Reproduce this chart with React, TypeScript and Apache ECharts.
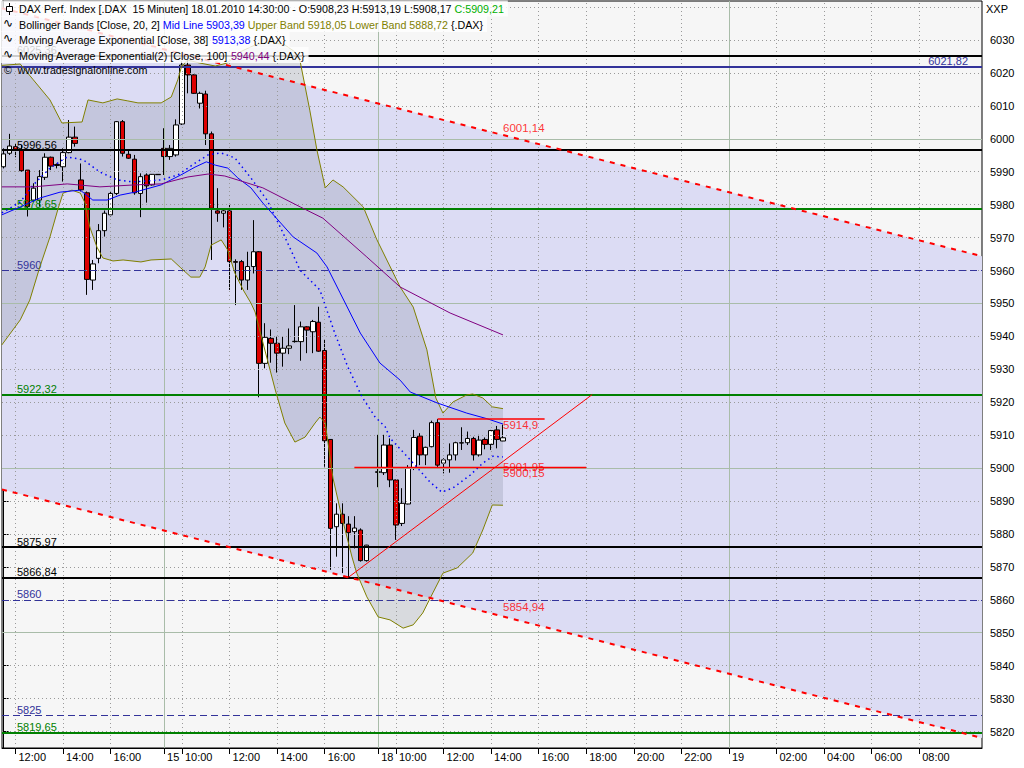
import React, { useEffect, useRef } from "react";
import * as echarts from "echarts";

const FONT = '"Liberation Sans", Arial, sans-serif';

// ---------- price bars (15 min, index 0 = 14.01. 11:30) ----------
const opens = [
  5991.5, 5995.6, 5997.6, 5996.6, 5990.5, 5981.4, 5981.4, 5988.3, 5994.4, 5992.2,
  5991.5, 5995.8, 6000.5, 5987.5, 5983.6, 5957.1, 5963.7, 5972.1, 5976.9, 5983.4,
  6005.2, 5995.3, 5993.8, 5983.4, 5989.0, 5986.0, 5989.2, 5997.1, 5994.6, 5995.1,
  6004.5, 6022.4, 6019.4, 6010.8, 6013.6, 6001.5, 5978.1, 5977.4, 5978.1, 5962.7,
  5962.7, 5957.1, 5961.2, 5965.7, 5931.8, 5939.4, 5937.9, 5934.9, 5936.4, 5938.4,
  5938.4, 5942.9, 5941.4, 5944.3, 5935.7, 5908.7, 5882.2, 5886.0, 5883.0, 5880.7,
  5881.2, 5871.9, null, 5898.7, 5898.6, 5907.0, 5896.4, 5883.2, 5889.1, 5899.9,
  5909.7, 5904.0, 5906.5, 5913.8, 5901.5, 5902.5, 5904.0, 5907.6, 5907.7, 5909.0,
  5904.0, 5908.7, 5907.2, 5911.6, 5908.23,
];
const closes = [
  5995.4, 5997.8, 5996.8, 5990.3, 5979.4, 5985.0, 5988.5, 5994.4, 5991.7, 5991.9,
  5995.8, 6000.5, 5998.6, 5984.5, 5957.3, 5962.0, 5972.1, 5977.4, 5983.4, 6005.2,
  5995.6, 5994.1, 5983.6, 5988.5, 5985.7, 5989.2, 5989.1, 5994.6, 5997.1, 6004.2,
  6022.4, 6019.4, 6013.8, 6013.8, 6001.5, 5978.9, 5977.4, 5978.1, 5962.7, 5962.5,
  5957.1, 5961.2, 5965.7, 5931.8, 5939.7, 5937.9, 5934.9, 5936.4, 5937.1, 5938.5,
  5942.9, 5941.9, 5944.5, 5935.5, 5908.3, 5881.7, 5886.0, 5883.2, 5880.4, 5881.8,
  5871.9, 5876.6, null, 5898.9, 5907.0, 5896.4, 5882.7, 5889.3, 5899.9, 5909.3,
  5904.0, 5906.3, 5913.8, 5900.9, 5902.5, 5904.0, 5907.7, 5907.7, 5909.0, 5904.0,
  5908.5, 5907.2, 5911.4, 5908.7, 5909.21,
];
const lows = [
  5991.0, 5995.1, 5994.4, 5990.0, 5976.4, 5980.9, 5979.4, 5987.5, 5990.5, 5991.0,
  5987.0, 5995.6, 5997.6, 5984.0, 5952.6, 5954.1, 5962.2, 5970.3, 5976.4, 5982.9,
  5994.6, 5993.9, 5983.0, 5976.2, 5980.6, 5985.8, 5989.0, 5989.0, 5993.6, 5994.6,
  6004.2, 6013.8, 6013.6, 6009.2, 5998.1, 5963.2, 5974.8, 5973.1, 5954.1, 5949.5,
  5954.1, 5954.1, 5959.1, 5921.5, 5930.3, 5932.0, 5929.0, 5930.8, 5934.6, 5938.1,
  5932.6, 5934.9, 5934.9, 5935.3, 5900.4, 5869.1, 5873.1, 5868.1, 5866.84, 5875.6,
  5871.6, 5871.6, null, 5894.2, 5897.9, 5894.2, 5878.2, 5882.4, 5889.0, 5899.4,
  5900.9, 5900.9, 5906.3, 5900.1, 5898.4, 5898.6, 5902.3, 5905.5, 5907.0, 5902.3,
  5903.5, 5905.7, 5905.5, 5906.0, 5908.17,
];
const highs = [
  5997.1, 6001.5, 5998.6, 5998.1, 5990.5, 5986.5, 5990.5, 5995.6, 5994.6, 5992.5,
  5997.1, 6005.7, 6003.7, 5992.5, 5984.0, 5963.2, 5974.1, 5978.2, 5984.0, 6005.4,
  6005.7, 5996.8, 5995.1, 5989.5, 5989.5, 5989.3, 5989.3, 6003.2, 5998.1, 6005.9,
  6023.5, 6025.36, 6019.6, 6014.3, 6014.6, 6002.2, 5985.0, 5978.6, 5979.9, 5963.4,
  5963.2, 5965.7, 5975.3, 5965.9, 5944.0, 5942.1, 5939.9, 5939.9, 5942.4, 5949.5,
  5944.5, 5943.1, 5945.0, 5949.0, 5938.9, 5908.8, 5889.3, 5889.3, 5885.4, 5885.4,
  5881.7, 5876.7, null, 5910.1, 5910.1, 5909.0, 5896.5, 5893.9, 5900.9, 5911.6,
  5910.6, 5906.5, 5914.4, 5914.9, 5903.0, 5907.5, 5908.0, 5912.4, 5911.1, 5909.5,
  5910.1, 5909.3, 5911.6, 5912.8, 5913.19,
];

// ---------- indicators, read as [bar index, value] ----------
const bbUpper = [
  [-0.3, 6022.3], [2.8, 6022.7], [5.0, 6017.9], [7.8, 6011.8], [9.8, 6004.8], [13.2, 6005.1],
  [14.2, 6011.8], [16.7, 6010.9], [19.1, 6012.1], [20.9, 6011.5], [22.6, 6010.9], [26.5, 6010.9],
  [28.2, 6012.7], [29.3, 6017.9], [29.9, 6021.8], [30.9, 6023.9], [33.0, 6023.0], [35.6, 6022.1],
  [37.6, 6023.0], [39.8, 6026.4], [42.3, 6028.5], [44.8, 6029.4], [47.3, 6028.5], [49.0, 6026.4],
  [49.9, 6023.3], [51.5, 6008.7], [52.7, 5996.6], [54.1, 5985.1], [55.4, 5987.5], [57.1, 5985.4],
  [60.5, 5979.3], [62.8, 5969.3], [66.7, 5955.0], [68.9, 5948.9], [71.2, 5935.9], [72.7, 5921.3],
  [73.9, 5916.7], [75.6, 5920.1], [77.9, 5922.2], [78.9, 5922.5], [80.6, 5921.3], [82.2, 5918.6],
  [84.0, 5918.05],
];
const bbLower = [
  [-0.3, 5937.4], [2.8, 5945.0], [4.4, 5951.0], [6.1, 5961.1], [7.8, 5970.2], [9.2, 5979.0],
  [10.0, 5983.5], [11.5, 5984.4], [12.9, 5983.5], [13.7, 5980.5], [14.5, 5973.2], [15.7, 5967.1],
  [16.7, 5963.8], [18.4, 5962.9], [20.1, 5963.2], [23.1, 5962.6], [24.8, 5963.2], [28.2, 5963.5],
  [29.8, 5960.8], [31.5, 5958.0], [33.0, 5958.0], [33.9, 5961.1], [34.9, 5967.7], [36.6, 5969.3],
  [37.7, 5966.2], [38.9, 5959.2], [40.3, 5954.1], [41.6, 5950.1], [42.3, 5947.4], [43.5, 5938.9],
  [45.7, 5923.7], [47.3, 5913.7], [49.0, 5907.9], [50.7, 5909.4], [52.4, 5913.7], [53.2, 5915.5],
  [54.1, 5913.7], [55.4, 5897.0], [56.9, 5885.1], [58.6, 5873.0], [59.4, 5868.1], [61.1, 5860.9],
  [63.0, 5854.8], [65.0, 5853.9], [67.2, 5851.4], [68.9, 5852.4], [70.5, 5856.0], [72.2, 5862.1],
  [73.9, 5868.1], [76.3, 5869.7], [78.9, 5874.2], [80.6, 5881.2], [82.2, 5888.8], [84.0, 5888.72],
];
const bbMid = [
  [-0.3, 5977.5], [2.8, 5980.8], [5.0, 5986.0], [7.8, 5991.1], [10.7, 5994.5], [13.4, 5993.6],
  [16.2, 5989.9], [19.1, 5987.5], [21.8, 5986.9], [26.5, 5987.5], [29.3, 5989.0], [32.2, 5992.6],
  [34.4, 5995.1], [36.6, 5995.7], [38.9, 5994.2], [41.6, 5988.1], [44.3, 5981.4], [47.0, 5971.4],
  [49.9, 5960.0], [53.2, 5954.1], [55.7, 5941.0], [57.9, 5930.7], [60.3, 5921.6], [62.5, 5915.5],
  [64.2, 5912.5], [65.0, 5909.1], [68.4, 5902.5], [71.7, 5895.8], [73.7, 5892.7], [75.6, 5894.0],
  [78.5, 5897.9], [80.6, 5901.5], [82.3, 5903.6], [84.0, 5903.39],
];
const ema38 = [
  [-0.3, 5976.9], [2.8, 5979.3], [6.1, 5982.0], [9.5, 5983.8], [12.9, 5984.4], [15.0, 5981.4],
  [17.4, 5981.4], [19.6, 5982.9], [22.1, 5983.8], [26.5, 5986.0], [29.8, 5989.0], [32.2, 5991.4],
  [34.1, 5993.0], [35.6, 5992.0], [37.7, 5991.1], [39.4, 5988.1], [41.6, 5985.1], [43.6, 5980.5],
  [48.7, 5970.2], [52.7, 5965.3], [54.4, 5961.1], [56.6, 5953.2], [60.0, 5941.0], [63.3, 5931.9],
  [66.7, 5926.7], [68.4, 5923.1], [72.9, 5919.8], [77.9, 5916.7], [81.3, 5915.0], [84.0, 5913.38],
];
const ema100 = [
  [-0.3, 5985.4], [5.0, 5985.4], [10.7, 5986.3], [16.2, 5985.4], [22.1, 5986.0], [26.5, 5986.3],
  [31.0, 5988.4], [34.4, 5989.3], [37.2, 5988.7], [39.9, 5987.2], [43.6, 5985.1], [49.9, 5979.3],
  [53.7, 5975.9], [61.1, 5964.1], [66.7, 5955.0], [75.1, 5947.1], [84.0, 5940.44],
];

// legend values
const BB_MID_LAST = "5903,39";
const BB_UP_LAST = "5918,05";
const BB_LO_LAST = "5888,72";
const EMA38_LAST = "5913,38";
const EMA100_LAST = "5940,44";

// ---------- drawings ----------
const channelUpper = [[31, 6025.36], [84, 6001.14]];
const channelLower = [[58, 5866.84], [84, 5854.94]];
const risingTrend = [[58, 5866.84], [99, 5922.32]];
const resistLine = [[73, 5914.9], [91, 5914.9]];
const supportLine = [[59, 5900.15], [98, 5900.15]];
const redLabelIdx = 84;
const redLabelValues = [6001.14, 5854.94, 5914.9, 5901.95, 5900.15];
const redLabelTexts = ["6001,14", "5854,94", "5914,9", "5901,95", "5900,15"];
const redLabelDy = [-13, -15, 0, -1, -1];

const levelValues = [6025.36, 6021.82, 5996.56, 5978.65, 5960, 5922.32, 5875.97, 5866.84, 5860, 5825, 5819.65];
const levelLabels = ["6025,36", "6021,82", "5996,56", "5978,65", "5960", "5922,32", "5875,97", "5866,84", "5860", "5825", "5819,65"];
const levelKinds = ["black", "navyRight", "black", "green", "navyDash", "green", "black", "black", "navyDash", "navyDash", "green"];

// ---------- axes ----------
const xTickIdx = [2, 10, 18, 27, 30, 38, 46, 54, 63, 66, 74, 82, 90, 98, 106, 114, 122, 130, 138, 146, 154];
const xTickText = ["12:00", "14:00", "16:00", "15", "10:00", "12:00", "14:00", "16:00", "18", "10:00", "12:00", "14:00", "16:00", "18:00", "20:00", "22:00", "19", "02:00", "04:00", "06:00", "08:00"];
const daySepIdx = [27, 63, 122];
const yTicks = [5820, 5830, 5840, 5850, 5860, 5870, 5880, 5890, 5900, 5910, 5920, 5930, 5940, 5950, 5960, 5970, 5980, 5990, 6000, 6010, 6020, 6030];
const yGridDotted = [5820, 5830, 5840, 5860, 5870, 5880, 5890, 5910, 5920, 5930, 5940, 5960, 5970, 5980, 5990, 6010, 6020, 6030, 6040];
const yGridSolid = [5850, 5900, 5950, 6000];

const XMIN = -0.27;
const XMAX = 164.57;
const YMIN = 5815.0;
const YMAX = 6041.84;

const NAVY = "#33339a";
const GREEN = "#008000";
const RED = "#ff0000";
const DOWN = "#dd0000";
const HEADER_SIZE = 10.7;

const lineAt = (p: number[][], x: number) => p[0][1] + ((p[1][1] - p[0][1]) * (x - p[0][0])) / (p[1][0] - p[0][0]);
const fmt = (v: number) => v.toFixed(2).replace(".", ",");

function buildOption() {
  const candleData: number[][] = [];
  for (let i = 0; i < opens.length; i++) {
    if (opens[i] == null) continue;
    candleData.push([i, opens[i] as number, closes[i] as number, lows[i] as number, highs[i] as number]);
  }
  const last = opens.length - 1;

  const levelStyle = (kind: string) => {
    if (kind === "black") return { color: "#000", width: 2, type: "solid" };
    if (kind === "green") return { color: GREEN, width: 2, type: "solid" };
    if (kind === "navyRight") return { color: NAVY, width: 2, type: "solid" };
    return { color: NAVY, width: 1, type: [7, 4] };
  };
  const levelLabelColor = (kind: string) => (kind === "black" ? "#000" : kind === "green" ? GREEN : NAVY);

  const channelPoly = [
    [XMIN, lineAt(channelUpper, XMIN)],
    [XMAX, lineAt(channelUpper, XMAX)],
    [XMAX, lineAt(channelLower, XMAX)],
    [XMIN, lineAt(channelLower, XMIN)],
  ];
  const bandPoly = bbUpper.concat(bbLower.slice().reverse());

  const txt = { fontFamily: FONT, fontSize: 11 };

  const headerBg = "rgba(255,255,255,0.8)";
  const headerText = (y: number, text: string, rich: any) => ({
    type: "text",
    x: 1,
    y,
    z: 100,
    silent: true,
    style: {
      text,
      rich,
      fontFamily: FONT,
      fontSize: HEADER_SIZE,
      fill: "#000",
      backgroundColor: headerBg,
      padding: [2, 4, 1, 18],
      lineHeight: 13,
    },
  });
  const r = (fill: string) => ({ fill, fontFamily: FONT, fontSize: HEADER_SIZE, lineHeight: 13 });
  const rich = { b: r("#000"), g: r("#00b000"), u: r("#0000ff"), o: r("#808000"), p: r("#800080") };

  const l1 = `{b|DAX Perf. Index [.DAX  15 Minuten] 18.01.2010 14:30:00 - O:${fmt(opens[last] as number)} H:${fmt(
    highs[last] as number
  )} L:${fmt(lows[last] as number)} }{g|C:${fmt(closes[last] as number)}}`;
  const l2 = `{b|Bollinger Bands [Close, 20, 2] }{u|Mid Line ${BB_MID_LAST}}{o| Upper Band ${BB_UP_LAST} Lower Band ${BB_LO_LAST}}{b| {.DAX}}`;
  const l3 = `{b|Moving Average Exponential [Close, 38] }{u|${EMA38_LAST}}{b| {.DAX}}`;
  const l4 = `{b|Moving Average Exponential(2) [Close, 100] }{p|${EMA100_LAST}}{b| {.DAX}}`;

  const wave = (y: number) => ({
    type: "text",
    x: 3,
    y,
    z: 101,
    silent: true,
    style: { text: "∿", fontFamily: '"DejaVu Sans", sans-serif', fontSize: 12, fill: "#000" },
  });

  return {
    animation: false,
    grid: {
      left: 2,
      right: 42,
      top: 1,
      bottom: 20,
      show: true,
      backgroundColor: "#f6f6f6",
      borderColor: "#000",
      borderWidth: 1,
    },
    xAxis: {
      type: "value",
      min: XMIN,
      max: XMAX,
      axisLine: { show: true, onZero: false, lineStyle: { color: "#000", width: 1 } },
      axisTick: { show: true, customValues: xTickIdx, length: 6, lineStyle: { color: "#000" } },
      axisLabel: {
        customValues: xTickIdx,
        formatter: (v: number) => {
          const k = xTickIdx.findIndex((t) => Math.abs(t - v) < 0.01);
          return k >= 0 ? xTickText[k] : "";
        },
        align: "left",
        padding: [0, 0, 0, 3],
        margin: 3,
        color: "#000",
        ...txt,
      },
      splitLine: { show: false },
    },
    yAxis: {
      type: "value",
      position: "right",
      min: YMIN,
      max: YMAX,
      axisLine: { show: true, lineStyle: { color: "#000", width: 1 } },
      axisTick: { show: true, customValues: yTicks, length: 5, lineStyle: { color: "#000" } },
      axisLabel: { customValues: yTicks, margin: 8, color: "#000", formatter: (v: number) => String(v), ...txt },
      splitLine: { show: false },
    },
    graphic: [
      headerText(0.5, l1, rich),
      headerText(16, l2, rich),
      headerText(31.5, l3, rich),
      headerText(47, l4, rich),
      {
        type: "group",
        z: 101,
        silent: true,
        children: [
          { type: "line", shape: { x1: 9.5, y1: 3, x2: 9.5, y2: 15 }, style: { stroke: "#000", lineWidth: 1 }, z: 101 },
          { type: "rect", shape: { x: 6.5, y: 6.5, width: 6, height: 5 }, style: { fill: "#fff", stroke: "#000", lineWidth: 1 }, z: 102 },
        ],
      },
      wave(16.5),
      wave(32),
      wave(47.5),
      {
        type: "text",
        x: 4,
        y: 64,
        z: 100,
        silent: true,
        style: { text: "©  www.tradesignalonline.com", fontFamily: FONT, fontSize: HEADER_SIZE, fill: "#000" },
      },
      {
        type: "text",
        x: 986,
        y: 3,
        z: 100,
        silent: true,
        style: { text: "XXP", fontFamily: FONT, fontSize: 11, fill: "#000" },
      },
    ],
    series: [
      // trend channel fill
      {
        type: "custom",
        z: 1,
        silent: true,
        clip: true,
        data: [[0, 5900]],
        renderItem: (_p: any, api: any) => ({
          type: "polygon",
          shape: { points: channelPoly.map((p) => api.coord(p)) },
          style: { fill: "#dcdcf4" },
        }),
      },
      // bollinger band fill
      {
        type: "custom",
        z: 2,
        silent: true,
        clip: true,
        data: [[0, 5900]],
        renderItem: (_p: any, api: any) => ({
          type: "polygon",
          shape: { points: bandPoly.map((p) => api.coord(p)) },
          style: { fill: "rgba(100,108,128,0.2)" },
        }),
      },
      // grid lines
      {
        type: "line",
        z: 3,
        silent: true,
        data: [],
        markLine: {
          silent: true,
          symbol: ["none", "none"],
          label: { show: false },
          lineStyle: { color: "#9a9a9a", width: 1, type: [1, 3] },
          data: [
            ...yGridDotted.map((v) => ({ yAxis: v })),
            ...xTickIdx.filter((i) => daySepIdx.indexOf(i) < 0).map((i) => ({ xAxis: i })),
          ],
        },
      },
      {
        type: "line",
        z: 3,
        silent: true,
        data: [],
        markLine: {
          silent: true,
          symbol: ["none", "none"],
          label: { show: false },
          lineStyle: { color: "#a9bca9", width: 1, type: "solid" },
          data: [...yGridSolid.map((v) => ({ yAxis: v })), ...daySepIdx.map((i) => ({ xAxis: i }))],
        },
      },
      // price
      {
        type: "candlestick",
        z: 4,
        silent: true,
        barWidth: 5,
        encode: { x: 0, y: [1, 2, 3, 4] },
        data: candleData,
        itemStyle: {
          color: "#ffffff",
          color0: DOWN,
          borderColor: "#000",
          borderColor0: "#000",
          borderWidth: 1,
        },
      },
      // indicators
      { type: "line", z: 5, silent: true, showSymbol: false, data: bbUpper, lineStyle: { color: "#808000", width: 1 } },
      { type: "line", z: 5, silent: true, showSymbol: false, data: bbLower, lineStyle: { color: "#808000", width: 1 } },
      {
        type: "line",
        z: 5,
        silent: true,
        showSymbol: false,
        data: bbMid,
        lineStyle: { color: "#0000ff", width: 1.5, type: [1.5, 3.5] },
      },
      { type: "line", z: 5, silent: true, showSymbol: false, data: ema38, lineStyle: { color: "#0000ff", width: 1 } },
      { type: "line", z: 5, silent: true, showSymbol: false, data: ema100, lineStyle: { color: "#800080", width: 1 } },
      // horizontal levels
      {
        type: "line",
        z: 6,
        silent: true,
        data: [],
        markLine: {
          silent: true,
          symbol: ["none", "none"],
          data: levelValues.map((v, k) => {
            const kind = levelKinds[k];
            return {
              yAxis: v,
              lineStyle: levelStyle(kind),
              label: {
                show: true,
                formatter: levelLabels[k],
                position: kind === "navyRight" ? "insideEndTop" : "insideStartTop",
                distance: kind === "navyRight" ? [14, 0] : [15, 0],
                color: levelLabelColor(kind),
                ...txt,
              },
            };
          }),
        },
      },
      // trend channel
      {
        type: "line",
        z: 7,
        silent: true,
        showSymbol: false,
        data: [
          [XMIN, lineAt(channelUpper, XMIN)],
          [XMAX, lineAt(channelUpper, XMAX)],
        ],
        lineStyle: { color: RED, width: 2, type: [5, 6] },
      },
      {
        type: "line",
        z: 7,
        silent: true,
        showSymbol: false,
        data: [
          [XMIN, lineAt(channelLower, XMIN)],
          [XMAX, lineAt(channelLower, XMAX)],
        ],
        lineStyle: { color: RED, width: 2, type: [5, 6] },
      },
      { type: "line", z: 7, silent: true, showSymbol: false, data: risingTrend, lineStyle: { color: RED, width: 1 } },
      { type: "line", z: 7, silent: true, showSymbol: false, data: resistLine, lineStyle: { color: RED, width: 1.5 } },
      { type: "line", z: 7, silent: true, showSymbol: false, data: supportLine, lineStyle: { color: RED, width: 1.5 } },
      // red value labels
      {
        type: "scatter",
        z: 8,
        silent: true,
        symbolSize: 0,
        data: redLabelValues.map((v, k) => ({
          value: [redLabelIdx, v],
          label: {
            show: true,
            formatter: redLabelTexts[k],
            position: [0, redLabelDy[k]],
            color: RED,
            fontFamily: FONT,
            fontSize: 11.5,
          },
        })),
      },
    ],
  };
}

export default function App() {
  const ref = useRef<HTMLDivElement>(null);
  useEffect(() => {
    if (!ref.current) return;
    const chart = echarts.init(ref.current, undefined, { renderer: "svg" });
    chart.setOption(buildOption() as any);
    return () => chart.dispose();
  }, []);
  return (
    <div
      ref={ref}
      style={{ position: "absolute", left: 0, top: 0, width: 1024, height: 768, background: "#ffffff" }}
    />
  );
}
